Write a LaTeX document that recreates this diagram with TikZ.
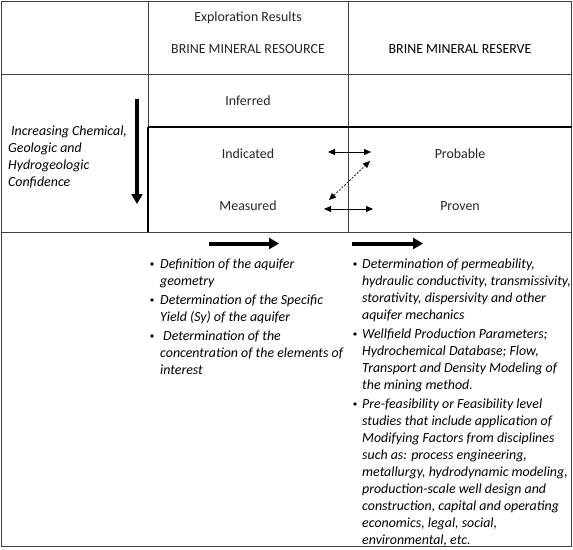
\documentclass[tikz,border=0pt]{standalone}
\usepackage{fontspec}
\setmainfont{Carlito}
\usetikzlibrary{arrows.meta}
\begin{document}
\begin{tikzpicture}[x=1pt,y=-1pt,
  frame/.style={line width=0.8pt, black!75},
  thickframe/.style={line width=1.4pt, black},
  cell/.style={font=\fontsize{13.9}{17}\selectfont, text=black!85, inner sep=0pt},
  lefttext/.style={font=\fontsize{13.9}{17}\selectfont\itshape, align=left, anchor=west, inner sep=0pt},
  bultext/.style={font=\fontsize{13.9}{17}\selectfont\itshape, align=left, anchor=base west, inner sep=0pt},
  bigarrow/.style={line width=4pt, -{Triangle[length=10pt,width=11pt]}},
  swaparrow/.style={line width=0.9pt, {Triangle[length=7pt,width=6pt]}-{Triangle[length=7pt,width=6pt]}}]
  \useasboundingbox (0,0) rectangle (573,549);
  \draw[frame] (1.5,1.5) rectangle (571.5,546.5);
  \draw[frame] (1.5,74) -- (571.5,74);
  \draw[frame] (1.5,232) -- (571.5,232);
  \draw[frame] (148,1.5) -- (148,127);
  \draw[frame] (348,1.5) -- (348,232);
  \draw[thickframe] (148,127) -- (571.5,127);
  \draw[thickframe] (148,127) -- (148,232);
  \node[cell] (expl) at (248,18) {Exploration Results};
  \node[cell] (resource) at (248,49) {BRINE MINERAL RESOURCE};
  \node[cell, text=black] (reserve) at (460,49) {BRINE MINERAL RESERVE};
  \node[cell] (inferred) at (248,101) {Inferred};
  \node[cell] (indicated) at (248,154) {Indicated};
  \node[cell] (measured) at (248,206) {Measured};
  \node[cell] (probable) at (460,154) {Probable};
  \node[cell] (proven) at (460,206) {Proven};
  \node[lefttext] (confidence) at (8,157) {\hspace*{3pt}Increasing Chemical,\\Geologic and\\Hydrogeologic\\Confidence};
  \coordinate (conftop) at (137,99);
  \coordinate (confbot) at (137,204);
  \draw[bigarrow] (conftop) -- (confbot);
  \coordinate (indL) at (328,152);
  \coordinate (indR) at (371,152);
  \coordinate (measL) at (324,209);
  \coordinate (measR) at (373,209);
  \coordinate (diagL) at (329,200);
  \coordinate (diagR) at (370,161);
  \draw[swaparrow] (indL) -- (indR);
  \draw[swaparrow] (measL) -- (measR);
  \draw[swaparrow, line width=0.7pt, dash pattern=on 2pt off 1.5pt] (diagL) -- (diagR);
  \coordinate (resA) at (209,243.5);
  \coordinate (resB) at (279,243.5);
  \coordinate (rsvA) at (352,243.5);
  \coordinate (rsvB) at (423,243.5);
  \draw[bigarrow] (resA) -- (resB);
  \draw[bigarrow] (rsvA) -- (rsvB);
  % base anchor sits on the last line
  \node[bultext] (geom) at (160,285) {Definition of the aquifer\\geometry};
  \node[bultext] (yield) at (160,321) {Determination of the Specific\\Yield (Sy) of the aquifer};
  \node[bultext] (conc) at (160,374) {\hspace*{3pt}Determination of the\\concentration of the elements of\\interest};
  \node[bultext] (perm) at (362,319) {Determination of permeability,\\hydraulic conductivity, transmissivity,\\storativity, dispersivity and other\\aquifer mechanics};
  \node[bultext] (well) at (362,389) {Wellfield Production Parameters;\\Hydrochemical Database; Flow,\\Transport and Density Modeling of\\the mining method.};
  \node[bultext] (feas) at (362,544) {Pre-feasibility or Feasibility level\\studies that include application of\\Modifying Factors from disciplines\\such as: process engineering,\\metallurgy, hydrodynamic modeling,\\production-scale well design and\\construction, capital and operating\\economics, legal, social,\\environmental, etc.};
  \foreach \y in {268,304,340} \fill (152,\y-4) circle (1.8pt);
  \foreach \y in {268,338,408} \fill (355,\y-4) circle (1.8pt);
\end{tikzpicture}
\end{document}
